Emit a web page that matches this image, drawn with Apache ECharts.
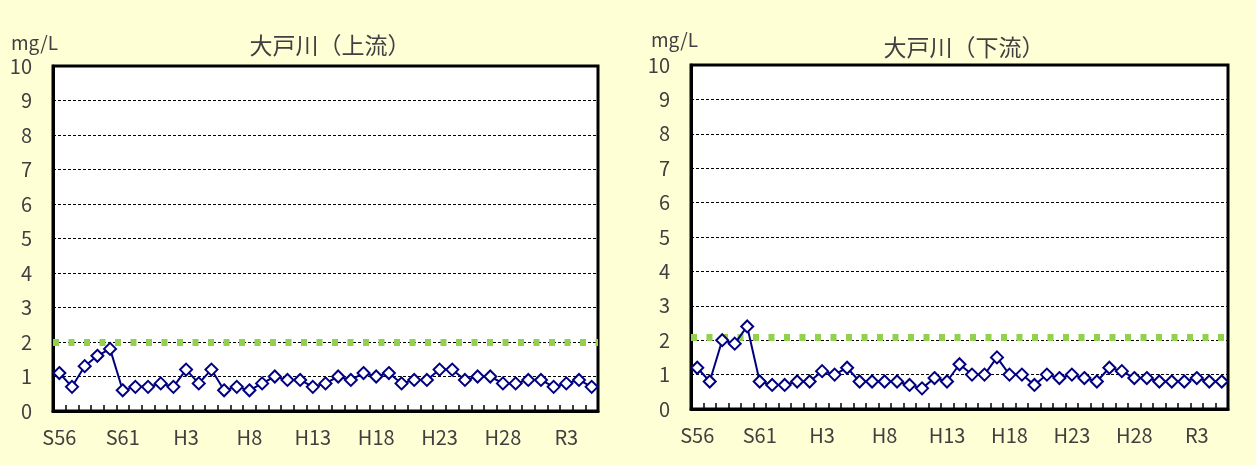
<!DOCTYPE html>
<html>
<head>
<meta charset="utf-8">
<script src="https://cdn.jsdelivr.net/npm/echarts@6/dist/echarts.min.js"></script>
<style>
  html, body { margin: 0; padding: 0; background: #FFFFD6; }
  #chart { width: 1256px; height: 465px; }
</style>
</head>
<body>
<div id="chart"></div>
<script>
// ── Data ──────────────────────────────────────────────────────────────
const years = [
  'S56', 'S57', 'S58', 'S59', 'S60', 'S61', 'S62', 'S63',
  'H1', 'H2', 'H3', 'H4', 'H5', 'H6', 'H7', 'H8', 'H9', 'H10',
  'H11', 'H12', 'H13', 'H14', 'H15', 'H16', 'H17', 'H18', 'H19', 'H20',
  'H21', 'H22', 'H23', 'H24', 'H25', 'H26', 'H27', 'H28', 'H29', 'H30',
  'R1', 'R2', 'R3', 'R4', 'R5'
];
const upstream = [
  1.1, 0.7, 1.3, 1.6, 1.8, 0.6, 0.7, 0.7, 0.8, 0.7,
  1.2, 0.8, 1.2, 0.6, 0.7, 0.6, 0.8, 1.0, 0.9, 0.9,
  0.7, 0.8, 1.0, 0.9, 1.1, 1.0, 1.1, 0.8, 0.9, 0.9,
  1.2, 1.2, 0.9, 1.0, 1.0, 0.8, 0.8, 0.9, 0.9, 0.7,
  0.8, 0.9, 0.7
];
const downstream = [
  1.2, 0.8, 2.0, 1.9, 2.4, 0.8, 0.7, 0.7, 0.8, 0.8,
  1.1, 1.0, 1.2, 0.8, 0.8, 0.8, 0.8, 0.7, 0.6, 0.9,
  0.8, 1.3, 1.0, 1.0, 1.5, 1.0, 1.0, 0.7, 1.0, 0.9,
  1.0, 0.9, 0.8, 1.2, 1.1, 0.9, 0.9, 0.8, 0.8, 0.8,
  0.9, 0.8, 0.8
];
const standardUp = 2.0;     // 環境基準 (上流)
const standardDown = 2.1;   // 環境基準 (下流)
const titles = ['大戸川（上流）', '大戸川（下流）'];
const unit = 'mg/L';

// ── Style ─────────────────────────────────────────────────────────────
const fontFamily = '"Noto Sans CJK JP", "Noto Sans", sans-serif';
const textColor = '#404040';
const lineColor = '#000080';
const stdColor = '#92D050';

const grids = [
  { left: 53, top: 66, width: 545, height: 345 },
  { left: 691, top: 65, width: 537, height: 344 }
];

const chart = echarts.init(document.getElementById('chart'), null, { renderer: 'canvas' });

function xAxisFor(i) {
  return {
    type: 'category', gridIndex: i, data: years, z: 10,
    axisLine: { show: true, lineStyle: { color: '#000', width: 3 } },
    axisTick: { show: true, inside: true, length: 6, interval: 0,
                lineStyle: { color: '#000', width: 1.5 } },
    axisLabel: { interval: 4, margin: 16, fontSize: 20, fontFamily, color: textColor },
    splitLine: { show: false }
  };
}
function yAxisFor(i) {
  return {
    type: 'value', gridIndex: i, min: 0, max: 10, interval: 1,
    axisLine: { show: true, lineStyle: { color: '#000', width: 3 } },
    axisTick: { show: false },
    axisLabel: { margin: 21, fontSize: 20, fontFamily, color: textColor },
    splitLine: { show: true, lineStyle: { color: '#000', width: 1, type: [3, 2] } }
  };
}
function dataSeries(i, values) {
  return {
    type: 'line', xAxisIndex: i, yAxisIndex: i, data: values, z: 5,
    symbol: 'diamond', symbolSize: 12, showAllSymbol: true,
    lineStyle: { color: lineColor, width: 2 },
    itemStyle: { color: '#fff', borderColor: lineColor, borderWidth: 2 }
  };
}
function stdSeries(i, value) {
  return {
    type: 'line', xAxisIndex: i, yAxisIndex: i, data: [], z: 3,
    markLine: {
      silent: true, symbol: 'none', label: { show: false },
      lineStyle: { color: stdColor, width: 7, type: [6, 9.5] },
      data: [{ yAxis: value }]
    }
  };
}

chart.setOption({
  animation: false,
  backgroundColor: '#FFFFD6',
  tooltip: { show: false },
  // white plot background kept behind the axes (grid fill hides inside ticks)
  graphic: grids.map(g => ({
    type: 'rect', z: -10, silent: true,
    shape: { x: g.left, y: g.top, width: g.width, height: g.height },
    style: { fill: '#fff' }
  })),
  title: [
    { text: titles[0], left: 325, top: 29, textAlign: 'center',
      textStyle: { fontSize: 23, fontWeight: 'normal', fontFamily, color: textColor } },
    { text: titles[1], left: 959, top: 31, textAlign: 'center',
      textStyle: { fontSize: 23, fontWeight: 'normal', fontFamily, color: textColor } },
    { text: unit, left: 6, top: 28,
      textStyle: { fontSize: 19, fontWeight: 'normal', fontFamily, color: textColor } },
    { text: unit, left: 646, top: 25,
      textStyle: { fontSize: 19, fontWeight: 'normal', fontFamily, color: textColor } }
  ],
  grid: grids.map(g => Object.assign({ show: true, borderColor: '#000', borderWidth: 3 }, g)),
  xAxis: [xAxisFor(0), xAxisFor(1)],
  yAxis: [yAxisFor(0), yAxisFor(1)],
  series: [
    stdSeries(0, standardUp),
    dataSeries(0, upstream),
    stdSeries(1, standardDown),
    dataSeries(1, downstream)
  ]
});
</script>
</body>
</html>
